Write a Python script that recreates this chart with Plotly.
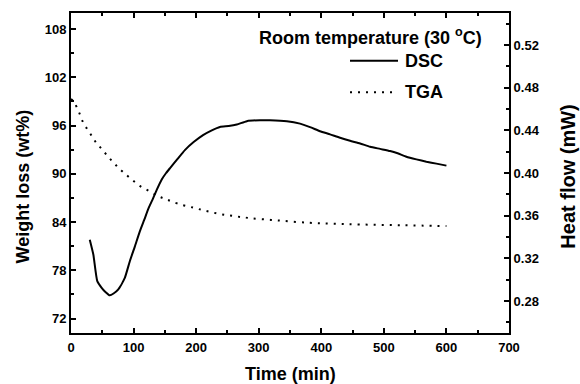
import plotly.graph_objects as go

# TGA: weight (wt%) vs time (min)
tga_time = [0, 5, 13, 20, 30, 39, 50, 62, 74, 85, 97, 110, 126, 140, 153, 170, 195, 215, 238, 260, 285, 330, 382, 420, 462, 530, 600]
tga_weight = [99.3, 98.9, 97.6, 96.3, 95.1, 94.0, 93.0, 91.9, 90.9, 90.1, 89.3, 88.5, 87.8, 87.2, 86.8, 86.3, 85.8, 85.4, 85.0, 84.75, 84.5, 84.2, 83.9, 83.8, 83.7, 83.6, 83.5]

# DSC: heat flow (mW) vs time (min)
dsc_time = [30, 35.7, 42, 49, 55, 62, 68, 75.6, 86, 94, 102, 110, 117, 124, 131, 137, 145, 152, 158, 170, 182, 196, 211, 225, 238, 252, 265, 281, 302, 318, 345, 366, 382, 398, 414, 430, 446, 462, 478, 494, 510, 522, 536, 552, 568, 584, 600]
dsc_heat = [0.3375, 0.3236, 0.2987, 0.2924, 0.2885, 0.2853, 0.2870, 0.2909, 0.3017, 0.3173, 0.3310, 0.3453, 0.3560, 0.3670, 0.3760, 0.3842, 0.3940, 0.4000, 0.4044, 0.4130, 0.4215, 0.4290, 0.4355, 0.4400, 0.4432, 0.4440, 0.4454, 0.4486, 0.4495, 0.4495, 0.4486, 0.4463, 0.4430, 0.4392, 0.4362, 0.4330, 0.4302, 0.4277, 0.4246, 0.4226, 0.4206, 0.4185, 0.4153, 0.4128, 0.4106, 0.4088, 0.4069]

x_ticks = [0, 100, 200, 300, 400, 500, 600, 700]
left_ticks = [72, 78, 84, 90, 96, 102, 108]
right_ticks = [0.28, 0.32, 0.36, 0.40, 0.44, 0.48, 0.52]

FONT = "Liberation Sans, Arial, sans-serif"
TGA_DASH = "2px,6px"

fig = go.Figure()
fig.add_trace(go.Scatter(
    x=tga_time, y=tga_weight, mode="lines", name="TGA",
    line=dict(color="black", width=2, dash=TGA_DASH, shape="spline"),
    yaxis="y",
))
fig.add_trace(go.Scatter(
    x=dsc_time, y=dsc_heat, mode="lines", name="DSC",
    line=dict(color="black", width=2, shape="spline", smoothing=0.5),
    yaxis="y2",
))

tick_font = dict(family=FONT, size=13, color="black", weight="bold")


def bold(size):
    return dict(family=FONT, size=size, color="black", weight="bold")


common = dict(
    showline=True, linecolor="black", linewidth=2,
    ticks="inside", ticklen=5, tickwidth=1.5, tickcolor="black",
    showgrid=False, zeroline=False, tickfont=tick_font,
)
minor_style = dict(ticklen=3, tickwidth=1.5, tickcolor="black", ticks="inside")

fig.update_layout(
    width=580, height=384,
    margin=dict(l=71, r=71, t=11, b=51),
    paper_bgcolor="white", plot_bgcolor="white",
    showlegend=False,
    xaxis=dict(
        range=[0, 700], tickvals=x_ticks, mirror="ticks", ticklabelstandoff=1,
        minor=dict(dtick=50, tick0=0, **minor_style),
        **common,
    ),
    yaxis=dict(
        range=[70.2, 110], tickvals=left_ticks,
        minor=dict(dtick=3, tick0=72, **minor_style),
        **common,
    ),
    yaxis2=dict(
        range=[0.25, 0.55], tickvals=right_ticks, tickformat=".2f",
        overlaying="y", side="right",
        minor=dict(dtick=0.02, tick0=0.28, **minor_style),
        **common,
    ),
)

# Axis titles
fig.add_annotation(xref="paper", yref="paper", x=0.5, y=-0.127,
                   text="Time (min)", showarrow=False,
                   xanchor="center", yanchor="middle", font=bold(18))
fig.add_annotation(xref="paper", yref="paper", x=-0.1096, y=0.458,
                   text="Weight loss (wt%)", showarrow=False, textangle=-90,
                   xanchor="center", yanchor="middle", font=bold(18))
fig.add_annotation(xref="paper", yref="paper", x=1.1358, y=0.49,
                   text="Heat flow (mW)", showarrow=False, textangle=-90,
                   xanchor="center", yanchor="middle", font=bold(20))

# Legend block: heading, sample lines and labels
fig.add_annotation(
    xref="paper", yref="paper", x=0.943, y=0.927, xanchor="right", yanchor="middle",
    text="Room temperature (30 <sup>o</sup>C)", showarrow=False, font=bold(18),
)
legend_rows = [("DSC", "solid", 0.851), ("TGA", TGA_DASH, 0.752)]
for label, dash, yy in legend_rows:
    fig.add_shape(type="line", xref="paper", yref="paper",
                  x0=0.637, x1=0.7466, y0=yy, y1=yy,
                  line=dict(color="black", width=2, dash=dash))
    fig.add_annotation(
        xref="paper", yref="paper", x=0.757, y=yy, xanchor="left", yanchor="middle",
        text=label, showarrow=False, font=bold(18),
    )

fig.write_html("out.html")
